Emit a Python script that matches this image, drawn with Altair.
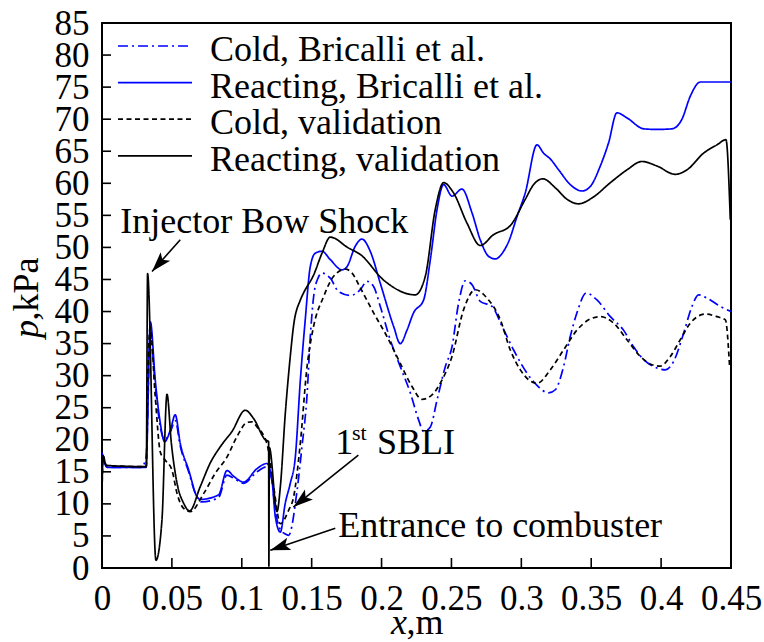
import altair as alt
import pandas as pd

FONT = "Liberation Serif"

# ---- axes ----
X_TICKS = [0, 0.05, 0.1, 0.15, 0.2, 0.25, 0.3, 0.35, 0.4, 0.45]
Y_TICKS = [0, 5, 10, 15, 20, 25, 30, 35, 40, 45, 50, 55, 60, 65, 70, 75, 80, 85]

# ---- series ----
SERIES = [
    "Cold, Bricalli et al.",
    "Reacting, Bricalli et al.",
    "Cold, validation",
    "Reacting, validation",
]

cold_bricalli_x = [0, 0.0015, 0.004, 0.028, 0.0315, 0.0346, 0.0381, 0.0417, 0.0448, 0.0489,
                   0.0524, 0.056, 0.062, 0.068, 0.0715, 0.0834, 0.0894, 0.0942, 0.1013, 0.1109,
                   0.118, 0.1216, 0.124, 0.1276, 0.1311, 0.1335, 0.1395, 0.1431, 0.1467, 0.149,
                   0.1515, 0.1545, 0.1574, 0.1633, 0.1693, 0.1776, 0.1848, 0.1896, 0.1943, 0.1991,
                   0.2062, 0.2134, 0.2206, 0.2265, 0.2301, 0.2349, 0.2397, 0.2456, 0.2504, 0.2551,
                   0.2599, 0.2647, 0.2706, 0.279, 0.2862, 0.2945, 0.304, 0.3112, 0.3195, 0.3243,
                   0.3302, 0.335, 0.3398, 0.3465, 0.3541, 0.3637, 0.3731, 0.3803, 0.3875, 0.397,
                   0.403, 0.4089, 0.4161, 0.4221, 0.4268, 0.4328, 0.4423, 0.45]
cold_bricalli_p = [18.0, 16.6, 15.7, 15.7, 17.2, 36.5, 28.5, 22.0, 20.0, 21.2,
                   23.0, 19.0, 15.0, 11.0, 10.3, 11.0, 14.5, 14.0, 13.2, 15.0,
                   15.8, 13.5, 9.0, 6.0, 5.3, 5.1, 12.0, 19.0, 27.0, 36.0,
                   42.5, 45.2, 46.0, 45.2, 43.1, 42.5, 43.4, 44.7, 43.9, 40.8,
                   35.6, 31.4, 27.3, 23.1, 21.3, 22.0, 26.2, 31.4, 34.5, 41.3,
                   44.8, 44.2, 41.6, 40.8, 37.7, 34.0, 30.4, 28.5, 27.3, 27.8,
                   31.4, 36.1, 39.8, 42.9, 41.8, 39.2, 37.1, 34.5, 32.5, 31.2,
                   30.9, 32.2, 36.6, 40.8, 42.6, 42.1, 40.8, 40.0]

react_bricalli_x = [0, 0.0015, 0.004, 0.0315, 0.0346, 0.0381, 0.0417, 0.0448, 0.0489, 0.0524,
                    0.056, 0.062, 0.068, 0.0703, 0.0834, 0.0894, 0.0942, 0.1013, 0.1109, 0.118,
                    0.1216, 0.124, 0.1276, 0.1311, 0.1347, 0.1383, 0.1419, 0.1454, 0.149, 0.1526,
                    0.1574, 0.1633, 0.1717, 0.1753, 0.1812, 0.186, 0.1919, 0.1991, 0.2086, 0.2134,
                    0.2182, 0.2229, 0.2301, 0.2349, 0.2397, 0.2444, 0.2504, 0.2575, 0.2647, 0.2706,
                    0.2766, 0.2814, 0.2873, 0.2909, 0.2969, 0.3028, 0.3112, 0.3159, 0.3207, 0.3267,
                    0.335, 0.3434, 0.3493, 0.3565, 0.3624, 0.3684, 0.3756, 0.3875, 0.397, 0.4078,
                    0.4149, 0.4209, 0.4281, 0.4376, 0.45]
react_bricalli_p = [18.0, 16.6, 15.7, 15.7, 38.4, 29.3, 22.6, 19.7, 21.5, 23.9,
                    19.4, 15.3, 11.1, 10.7, 11.4, 15.2, 14.3, 13.4, 15.5, 16.3,
                    13.7, 8.0, 5.6, 10.1, 13.2, 17.3, 29.3, 38.7, 47.0, 49.1,
                    49.4, 48.1, 46.5, 47.0, 50.2, 51.3, 49.4, 44.4, 37.7, 35.0,
                    37.1, 39.8, 41.8, 48.1, 55.9, 59.8, 58.0, 59.1, 55.4, 51.2,
                    48.6, 48.2, 49.4, 50.9, 54.8, 58.5, 66.0, 64.7, 63.8, 62.1,
                    59.8, 58.8, 59.5, 62.7, 66.3, 71.0, 70.2, 68.5, 68.4, 68.5,
                    70.0, 73.6, 75.8, 75.8, 75.8]

cold_valid_x = [0, 0.0008, 0.003, 0.0317, 0.0328, 0.0345, 0.038, 0.0418, 0.0453, 0.05,
                0.0537, 0.0584, 0.0632, 0.0727, 0.0811, 0.0894, 0.0966, 0.1037, 0.1073, 0.1109,
                0.118, 0.1228, 0.1276, 0.1335, 0.137, 0.1419, 0.1467, 0.1514, 0.1585, 0.1657,
                0.1741, 0.1789, 0.1848, 0.1943, 0.2039, 0.2134, 0.2218, 0.2289, 0.2361, 0.2432,
                0.2504, 0.2587, 0.2671, 0.2754, 0.285, 0.2921, 0.2993, 0.3112, 0.3207, 0.3302,
                0.3398, 0.3481, 0.3565, 0.366, 0.3756, 0.3851, 0.3935, 0.3994, 0.4066, 0.4137,
                0.4209, 0.4316, 0.44, 0.446, 0.449]
cold_valid_p = [12.0, 17.5, 16.0, 15.8, 30.0, 37.5, 27.0, 18.0, 16.8, 15.3,
                11.6, 9.3, 8.8, 11.6, 14.8, 17.3, 20.5, 22.7, 22.8, 22.0,
                19.4, 12.7, 6.9, 9.0, 11.0, 19.5, 31.4, 37.7, 42.3, 45.5,
                46.6, 46.0, 43.7, 39.8, 36.1, 31.9, 28.3, 26.3, 27.0, 29.3,
                33.0, 40.3, 43.4, 42.1, 38.7, 34.0, 30.9, 28.8, 30.9, 34.0,
                37.1, 38.7, 39.2, 38.2, 35.6, 33.0, 31.7, 31.5, 33.0, 35.6,
                38.2, 39.6, 39.2, 38.7, 31.4]

react_valid_x = [0, 0.0008, 0.003, 0.0317, 0.0326, 0.0386, 0.0429, 0.0465, 0.0496, 0.0537,
                 0.0584, 0.0627, 0.0703, 0.0775, 0.0846, 0.093, 0.1025, 0.1085, 0.1168, 0.1192,
                 0.1194, 0.1197, 0.1252, 0.1276, 0.1311, 0.1347, 0.137, 0.1419, 0.1442, 0.1514,
                 0.1574, 0.1633, 0.1764, 0.1848, 0.2015, 0.2241, 0.2313, 0.2384, 0.2444, 0.2515,
                 0.2611, 0.2706, 0.2802, 0.2921, 0.3028, 0.3088, 0.3155, 0.3243, 0.3327, 0.341,
                 0.3505, 0.3637, 0.3756, 0.3863, 0.397, 0.4101, 0.4185, 0.4304, 0.44, 0.4464,
                 0.4495]
react_valid_p = [12.0, 17.5, 16.0, 15.8, 45.9, 1.2, 7.5, 27.1, 19.5, 13.2,
                 10.1, 8.9, 12.7, 16.4, 18.9, 21.3, 24.6, 23.3, 20.0, 19.7,
                 0.3, 18.8, 8.8, 12.7, 24.0, 33.0, 37.7, 41.8, 42.9, 45.7,
                 49.1, 51.6, 49.9, 48.9, 44.9, 42.6, 45.5, 55.9, 60.1, 58.5,
                 53.8, 50.3, 52.0, 53.4, 57.5, 59.8, 60.7, 59.3, 57.5, 56.8,
                 57.7, 60.1, 62.1, 63.4, 62.7, 61.4, 62.1, 64.7, 66.0, 66.8,
                 54.3]

COLORS = ["#0000ff", "#0000ff", "#000000", "#000000"]
DASHES = [[10, 4, 2, 4], [1, 0], [5, 3.5], [1, 0]]

# ---- annotations (data coordinates) ----
ann_labels = ["Injector Bow Shock", "1", "SBLI", "Entrance to combuster"]
ann_x = [0.0131, 0.1669, 0.1967, 0.169]
ann_y = [52.3, 17.8, 17.8, 4.85]
sup_labels = ["st"]
sup_x = [0.1789]
sup_y = [19.95]

arrow_x0 = [0.056, 0.1834, 0.1669]
arrow_y0 = [51.2, 17.6, 6.2]
arrow_x1 = [0.0358, 0.1369, 0.1204]
arrow_y1 = [46.25, 9.5, 2.77]
arrow_angle = [221.8, 231.3, 251.3]

W, H = 629, 545

rows = []
for name, xs, ps in zip(SERIES,
                        [cold_bricalli_x, react_bricalli_x, cold_valid_x, react_valid_x],
                        [cold_bricalli_p, react_bricalli_p, cold_valid_p, react_valid_p]):
    for i, (xv, pv) in enumerate(zip(xs, ps)):
        rows.append({"series": name, "x": xv, "p": pv, "i": i})
df = pd.DataFrame(rows)

xscale = alt.Scale(domain=[0, 0.45], nice=False, zero=False)
yscale = alt.Scale(domain=[0, 85], nice=False, zero=False)
color_scale = alt.Scale(domain=SERIES, range=COLORS)
dash_scale = alt.Scale(domain=SERIES, range=DASHES)

xaxis = alt.Axis(values=X_TICKS, format="~g", title=None, ticks=False, domain=False,
                 grid=False, labelFont=FONT, labelFontSize=35, labelColor="black",
                 labelPadding=13, labelOverlap=False, labelFlush=False, labelBound=False)
yaxis = alt.Axis(values=Y_TICKS, title=None, ticks=False, domain=False, grid=False,
                 labelFont=FONT, labelFontSize=35, labelColor="black", labelPadding=13,
                 labelOverlap=False, labelFlush=False, labelBound=False)


def X(field):
    return alt.X(field, scale=xscale, axis=xaxis)


def Y(field):
    return alt.Y(field, scale=yscale, axis=yaxis)


# inward tick marks
xt = pd.DataFrame({"x": X_TICKS[1:-1]})
yt = pd.DataFrame({"p": Y_TICKS[1:-1]})
x_ticks = alt.Chart(xt).mark_rule(color="black", strokeWidth=1.6).encode(
    x=X("x:Q"), y=alt.value(H), y2=alt.value(H - 10))
y_ticks = alt.Chart(yt).mark_rule(color="black", strokeWidth=1.6).encode(
    y=Y("p:Q"), x=alt.value(0), x2=alt.value(9))

lines = alt.Chart(df).mark_line(strokeWidth=1.7, clip=True, interpolate="monotone").encode(
    x=X("x:Q"),
    y=Y("p:Q"),
    color=alt.Color("series:N", scale=color_scale, legend=None),
    strokeDash=alt.StrokeDash("series:N", scale=dash_scale, legend=None),
    detail="series:N",
    order="i:Q",
)

# legend drawn inside the plot, top-left
legend_layers = []
for k, name in enumerate(SERIES):
    ly = 23 + 36.6 * k
    legend_layers.append(
        alt.Chart(pd.DataFrame({"series": [name]})).mark_rule(strokeWidth=1.7).encode(
            x=alt.value(16), x2=alt.value(90), y=alt.value(ly),
            color=alt.Color("series:N", scale=color_scale, legend=None),
            strokeDash=alt.StrokeDash("series:N", scale=dash_scale, legend=None),
        )
    )
    legend_layers.append(
        alt.Chart(pd.DataFrame({"series": [name]})).mark_text(
            font=FONT, fontSize=36, align="left", baseline="alphabetic", color="black"
        ).encode(x=alt.value(108), y=alt.value(ly + 15), text="series:N")
    )

ann = pd.DataFrame({"label": ann_labels, "x": ann_x, "p": ann_y})
ann_text = alt.Chart(ann).mark_text(
    font=FONT, fontSize=36, align="left", baseline="alphabetic", color="black"
).encode(x=X("x:Q"), y=Y("p:Q"), text="label:N")

sup = pd.DataFrame({"label": sup_labels, "x": sup_x, "p": sup_y})
sup_text = alt.Chart(sup).mark_text(
    font=FONT, fontSize=22, align="left", baseline="alphabetic", color="black"
).encode(x=X("x:Q"), y=Y("p:Q"), text="label:N")

arr = pd.DataFrame({"x": arrow_x0, "p": arrow_y0, "x1": arrow_x1, "p1": arrow_y1,
                    "ang": arrow_angle})
arrow_lines = alt.Chart(arr).mark_rule(color="black", strokeWidth=1.6).encode(
    x=X("x:Q"), y=Y("p:Q"), x2="x1:Q", y2="p1:Q")
arrow_heads = alt.Chart(arr).mark_point(
    shape="M0,0L0.32,1L0,0.78L-0.32,1Z", filled=True, color="black", opacity=1,
    size=1600, strokeWidth=0
).encode(x=X("x1:Q"), y=Y("p1:Q"), angle=alt.Angle("ang:Q", scale=None))

# axis titles with italic variable names
title_layers = [
    alt.Chart(pd.DataFrame({"t": ["x"]})).mark_text(
        font=FONT, fontSize=36, fontStyle="italic", align="left", baseline="alphabetic",
        color="black").encode(x=alt.value(289), y=alt.value(611), text="t:N"),
    alt.Chart(pd.DataFrame({"t": [",m"]})).mark_text(
        font=FONT, fontSize=36, align="left", baseline="alphabetic",
        color="black").encode(x=alt.value(304.5), y=alt.value(611), text="t:N"),
    alt.Chart(pd.DataFrame({"t": ["p"]})).mark_text(
        font=FONT, fontSize=36, fontStyle="italic", align="left", baseline="alphabetic",
        angle=270, color="black").encode(x=alt.value(-64), y=alt.value(315), text="t:N"),
    alt.Chart(pd.DataFrame({"t": [",kPa"]})).mark_text(
        font=FONT, fontSize=36, align="left", baseline="alphabetic",
        angle=270, color="black").encode(x=alt.value(-64), y=alt.value(297.5), text="t:N"),
]

chart = alt.layer(
    x_ticks, y_ticks, lines, *legend_layers, ann_text, sup_text, arrow_lines, arrow_heads,
    *title_layers
).properties(
    width=W, height=H,
    padding={"left": 102, "top": 23, "right": 33, "bottom": 74},
    autosize=alt.AutoSizeParams(type="none"),
    background="white",
).configure_view(stroke="black", strokeWidth=2)

chart.save("out.html", embed_options={"renderer": "svg", "actions": False})
